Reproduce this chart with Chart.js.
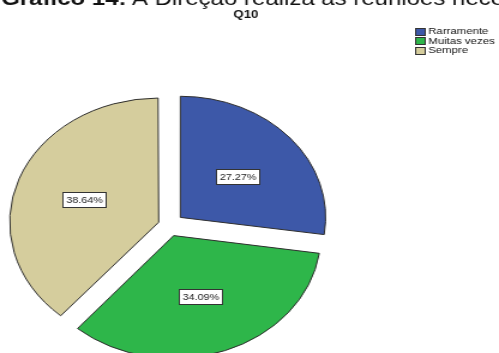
<!DOCTYPE html>
<html>
<head>
<meta charset="utf-8">
<script src="https://cdn.jsdelivr.net/npm/chart.js@4.4.1/dist/chart.umd.min.js"></script>
<style>
  html, body { margin: 0; padding: 0; background: #fff; }
</style>
</head>
<body>
<!-- the reference picture is stretched sideways, so the canvas is too -->
<canvas id="chart" width="416" height="353" style="display:block;width:499px;height:353px"></canvas>
<script>
const categories = ['Rarramente', 'Muitas vezes', 'Sempre'];
const values = [27.27, 34.09, 38.64];
const sliceColors = ['#3d58a8', '#2eb64a', '#d5cd9d'];
const caption = ['Gráfico 14:', 'A Direção realiza as reuniões necessárias'];
const chartTitle = 'Q10';

const FONT = '"Liberation Sans", Arial, sans-serif';

// explode distance per slice (chart.js divides offset by 4 and adds a bit for wide slices)
const pushOut = 12.5;
function arcOffset(v) {
  const circ = v / 100 * Math.PI * 2;
  return 4 * pushOut / (2 - Math.sin(Math.min(Math.PI, circ)));
}

const decor = {
  id: 'decor',
  afterDatasetsDraw(chart) {
    const ctx = chart.ctx;
    const meta = chart.getDatasetMeta(0);
    const ds = chart.data.datasets[0];
    ctx.save();

    // boxed percentage labels
    ctx.font = '9px ' + FONT;
    ctx.textAlign = 'center';
    ctx.textBaseline = 'middle';
    meta.data.forEach((arc, i) => {
      const p = arc.getProps(['x', 'y', 'startAngle', 'endAngle', 'outerRadius', 'circumference'], true);
      const mid = (p.startAngle + p.endAngle) / 2;
      const off = ds.offset[i] / 4 * (2 - Math.sin(Math.min(Math.PI, p.circumference)));
      const d = off + p.outerRadius * 0.52;
      const lx = p.x + Math.cos(mid) * d;
      const ly = p.y + Math.sin(mid) * d;
      const txt = values[i].toFixed(2) + '%';
      const w = Math.round(ctx.measureText(txt).width + 5);
      const h = 15;
      const bx = Math.round(lx - w / 2) + 0.5;
      const by = Math.round(ly - h / 2) + 0.5;
      ctx.fillStyle = '#fff';
      ctx.fillRect(bx, by, w, h);
      ctx.strokeStyle = '#333';
      ctx.lineWidth = 1;
      ctx.strokeRect(bx, by, w, h);
      ctx.fillStyle = '#222';
      ctx.fillText(txt, bx + w / 2, by + h / 2 + 0.5);
    });

    // legend, top right
    ctx.font = '9.5px ' + FONT;
    ctx.textAlign = 'left';
    chart.data.labels.forEach((lab, i) => {
      const cy = 31.5 + i * 9.5;
      ctx.fillStyle = sliceColors[i];
      ctx.fillRect(346.5, Math.round(cy - 4) + 0.5, 8, 7);
      ctx.strokeStyle = '#333';
      ctx.strokeRect(346.5, Math.round(cy - 4) + 0.5, 8, 7);
      ctx.fillStyle = '#111';
      ctx.fillText(lab, 357, cy);
    });

    // cut-off caption and title
    ctx.textBaseline = 'alphabetic';
    ctx.fillStyle = '#111';
    ctx.font = 'bold 20px ' + FONT;
    ctx.fillText(caption[0], 1, 5);
    ctx.font = '20px ' + FONT;
    ctx.fillText(caption[1], 110, 5);
    ctx.font = 'bold 11px ' + FONT;
    ctx.textAlign = 'center';
    ctx.fillText(chartTitle, 205, 18);

    ctx.restore();
  }
};

new Chart(document.getElementById('chart'), {
  type: 'pie',
  data: {
    labels: categories,
    datasets: [{
      data: values,
      backgroundColor: sliceColors,
      borderColor: '#2e2e2e',
      borderWidth: 1,
      offset: values.map(arcOffset),
      radius: 121,
    }],
  },
  options: {
    responsive: false,
    animation: false,
    layout: { padding: { left: 0, right: 134, top: 98, bottom: 0 } },
    plugins: {
      legend: { display: false },
      title: { display: false },
      tooltip: { enabled: false },
    },
  },
  plugins: [decor],
});
</script>
</body>
</html>
